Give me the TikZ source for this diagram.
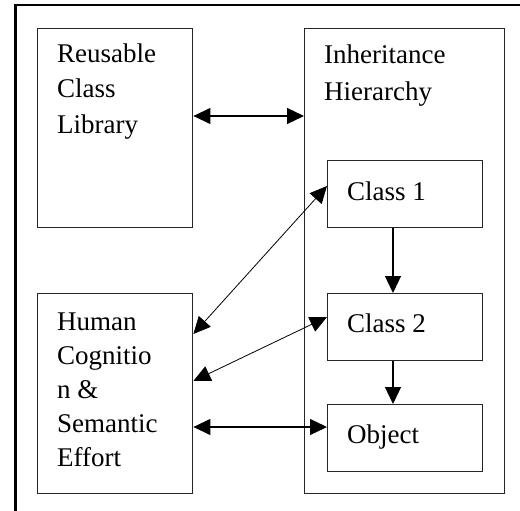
\documentclass[tikz,border=0pt]{standalone}
\usepackage{fontspec}
\setmainfont{Liberation Serif}
\usetikzlibrary{arrows.meta}
\begin{document}
\begin{tikzpicture}[x=1pt,y=-1pt,
  box/.style={draw=black!85, line width=1.4pt, anchor=north west, inner sep=0pt},
  lbl/.style={anchor=base west, inner sep=0pt, font=\fontsize{27}{35}\selectfont},
  tip/.style={Triangle[length=17pt,width=16pt]},
  conn/.style={line width=1.3pt, {Triangle[length=17pt,width=16pt]}-{Triangle[length=17pt,width=16pt]}},
  thin/.style={line width=0.8pt, {Triangle[length=17pt,width=16pt]}-{Triangle[length=17pt,width=16pt]}},
  down/.style={line width=1.3pt, -{Triangle[length=17pt,width=16pt]}}]
\useasboundingbox (0,0) rectangle (520,511);
\fill[white] (0,0) rectangle (520,511);
% outer frame
\coordinate (ftl) at (15,5);
\coordinate (fbl) at (15,511);
\coordinate (ftr) at (520,5);
\draw[line width=3pt] (ftl) -- (fbl);
\draw[line width=1.5pt] (13.5,5) -- (ftr);
% boxes
\node[box, minimum width=155pt, minimum height=199pt] (lib) at (37,28) {};
\node[box, minimum width=200pt, minimum height=465pt] (inh) at (304,28) {};
\node[box, minimum width=155pt, minimum height=200pt] (hum) at (37,293) {};
\node[box, minimum width=155pt, minimum height=67pt] (c1) at (327,160) {};
\node[box, minimum width=155pt, minimum height=67pt] (c2) at (327,293) {};
\node[box, minimum width=155pt, minimum height=67pt] (obj) at (327,404) {};
% labels
\node[lbl] (l1) at (57,63) {Reusable};
\node[lbl] (l2) at (57,98) {Class};
\node[lbl] (l3) at (57,133) {Library};
\node[lbl] (i1) at (324,64) {Inheritance};
\node[lbl] (i2) at (324,100) {Hierarchy};
\node[lbl] (h1) at (57,330) {Human};
\node[lbl] (h2) at (57,364) {Cognitio};
\node[lbl] (h3) at (57,398) {n \&};
\node[lbl] (h4) at (57,432) {Semantic};
\node[lbl] (h5) at (57,466) {Effort};
\node[lbl] (t1) at (347,200) {Class 1};
\node[lbl] (t2) at (347,332) {Class 2};
\node[lbl] (t3) at (347,443) {Object};
% connectors
\draw[conn] (lib.east |- 0,116) -- (inh.west |- 0,116);
\draw[thin] (c1.west |- 0,186) -- (hum.east |- 0,334);
\draw[thin] (c2.west |- 0,317) -- (hum.east |- 0,381);
\draw[conn] (obj.west |- 0,427) -- (hum.east |- 0,427);
\draw[down] (c1.south -| 393,0) -- (c2.north -| 393,0);
\draw[down] (c2.south -| 393,0) -- (obj.north -| 393,0);
\end{tikzpicture}
\end{document}
